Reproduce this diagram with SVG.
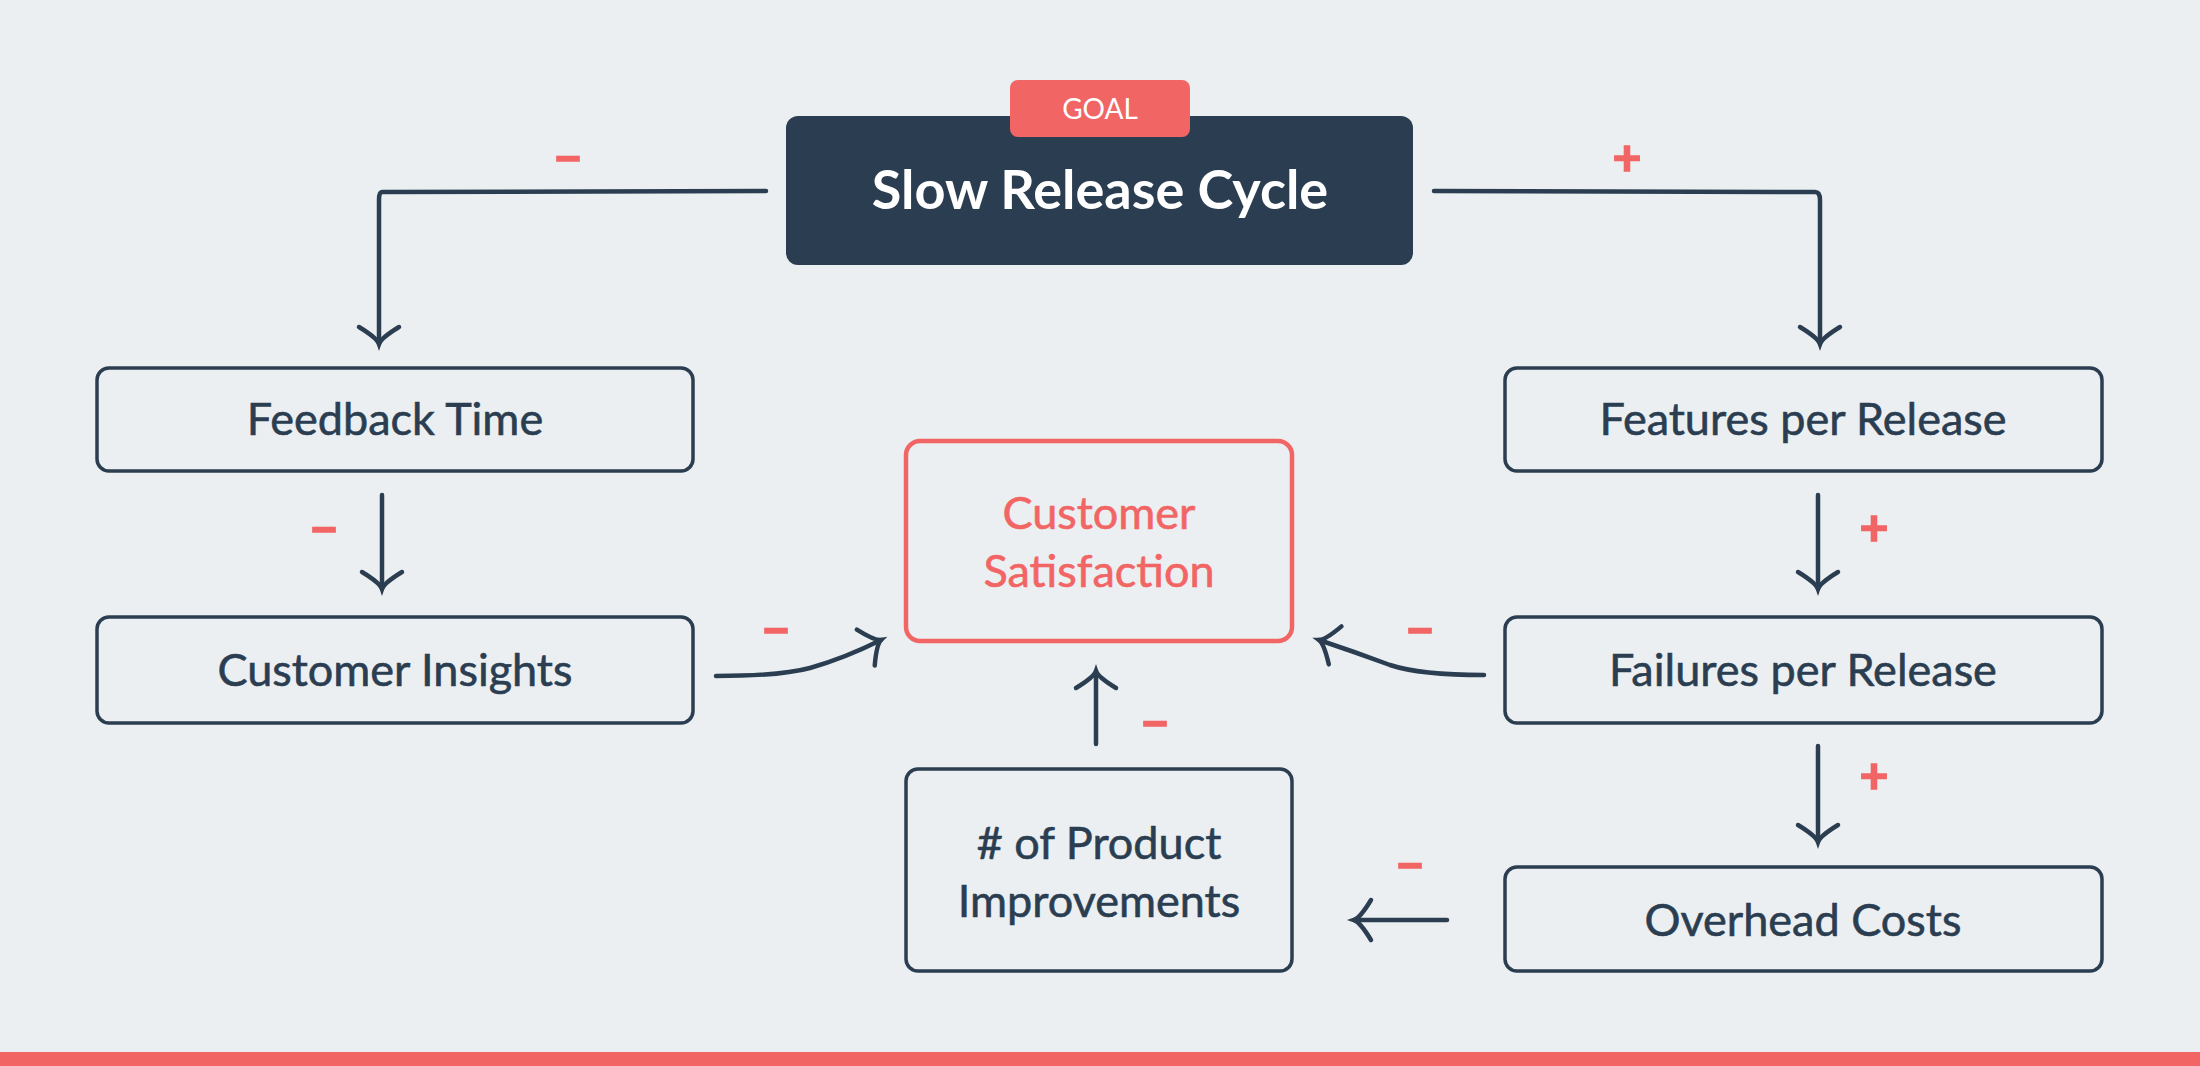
<svg xmlns="http://www.w3.org/2000/svg" width="2200" height="1066" viewBox="0 0 2200 1066">
<defs>
<style>
.box{fill:none;stroke:#2b3e51;stroke-width:3.5}
.lbl{font-family:Lato,"Open Sans",sans-serif;font-size:45px;fill:#2b3e51;text-anchor:middle;stroke:#2b3e51;stroke-width:0.6}
.sgn{font-family:Lato,"Open Sans",sans-serif;font-size:50px;font-weight:bold;fill:#f26565;text-anchor:middle;stroke:#f26565;stroke-width:1.5}
.con{fill:none;stroke:#2b3e51;stroke-width:4.5;stroke-linecap:round;stroke-linejoin:round}
</style>
<marker id="ah" markerUnits="userSpaceOnUse" markerWidth="60" markerHeight="60" viewBox="-30 -30 60 60" refX="0" refY="0" orient="auto">
<path d="M-17,-20 Q-6,-2 0,0 Q-6,2 -17,20" fill="none" stroke="#2b3e51" stroke-width="4.5" stroke-linecap="round"/>
</marker>
</defs>
<rect width="2200" height="1066" fill="#eceff1"/>
<rect x="0" y="1052" width="2200" height="14" fill="#f26565"/>
<g id="goal">
<rect x="786" y="116" width="627" height="149" rx="12" fill="#2b3e51"/>
<rect x="1010" y="80" width="180" height="57" rx="8" fill="#f26565"/>
<text x="1100" y="119" font-family="Lato,'Open Sans',sans-serif" font-size="28" fill="#fff" text-anchor="middle">GOAL</text>
<text x="1100" y="209" font-family="Lato,'Open Sans',sans-serif" font-size="54" font-weight="bold" fill="#fff" text-anchor="middle">Slow Release Cycle</text>
</g>
<g id="feedback"><rect class="box" x="97" y="368" width="596" height="103" rx="12"/><text class="lbl" x="395" y="435">Feedback Time</text></g>
<g id="insights"><rect class="box" x="97" y="617" width="596" height="106" rx="12"/><text class="lbl" x="395" y="686">Customer Insights</text></g>
<g id="features"><rect class="box" x="1505" y="368" width="597" height="103" rx="12"/><text class="lbl" x="1803" y="435">Features per Release</text></g>
<g id="failures"><rect class="box" x="1505" y="617" width="597" height="106" rx="12"/><text class="lbl" x="1803" y="686">Failures per Release</text></g>
<g id="overhead"><rect class="box" x="1505" y="867" width="597" height="104" rx="12"/><text class="lbl" x="1803" y="936">Overhead Costs</text></g>
<g id="satisfaction"><rect x="906" y="441" width="386" height="200" rx="14" fill="none" stroke="#f26565" stroke-width="4.5"/><text class="lbl" x="1099" y="529" style="fill:#f26565;stroke:#f26565">Customer</text><text class="lbl" x="1099" y="587" style="fill:#f26565;stroke:#f26565">Satisfaction</text></g>
<g id="improvements"><rect class="box" x="906" y="769" width="386" height="202" rx="12"/><text class="lbl" x="1099" y="859"># of Product</text><text class="lbl" x="1099" y="917">Improvements</text></g>
<g id="connectors">
<path class="con" d="M766,191 L382,192 Q379,192 379,200 L379,344" marker-end="url(#ah)"/>
<path class="con" d="M1434,191 L1815,192 Q1820,192 1820,200 L1820,344" marker-end="url(#ah)"/>
<path class="con" d="M382,495 L382,589" marker-end="url(#ah)"/>
<path class="con" d="M1818,495 L1818,589" marker-end="url(#ah)"/>
<path class="con" d="M1818,746 L1818,842" marker-end="url(#ah)"/>
<path class="con" d="M716,676 Q780,676 810,668 Q845,658 881,640" marker-end="url(#ah)"/>
<path class="con" d="M1484,675 Q1420,675 1390,665 Q1355,652 1319,640" marker-end="url(#ah)"/>
<path class="con" d="M1096,744 L1096,671" marker-end="url(#ah)"/>
<path class="con" d="M1447,920 L1354,920" marker-end="url(#ah)"/>
<text class="sgn" x="568" y="175">−</text>
<text class="sgn" x="1627" y="175">+</text>
<text class="sgn" x="324" y="546">−</text>
<text class="sgn" x="1874" y="545">+</text>
<text class="sgn" x="1874" y="793">+</text>
<text class="sgn" x="776" y="647">−</text>
<text class="sgn" x="1420" y="647">−</text>
<text class="sgn" x="1155" y="740">−</text>
<text class="sgn" x="1410" y="882">−</text>
</g>
</svg>
